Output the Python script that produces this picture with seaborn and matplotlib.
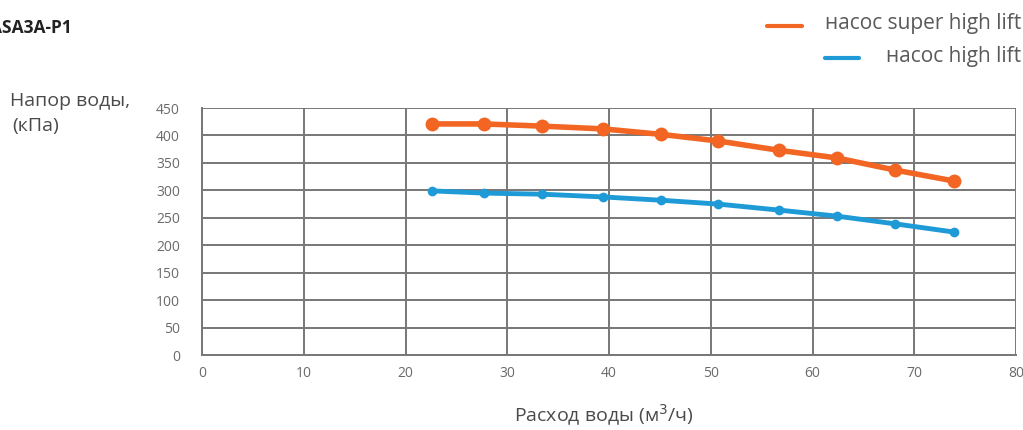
import pandas as pd
import matplotlib.pyplot as plt
import seaborn as sns
from matplotlib.lines import Line2D

sns.set_style("white")
plt.rcParams['font.family'] = ['Open Sans', 'DejaVu Sans']

flow = [22.6, 27.7, 33.4, 39.4, 45.1, 50.7, 56.7, 62.4, 68.1, 73.9]
super_high = [421, 421, 417, 412, 402, 390, 373, 359, 337, 317]
high = [299, 295, 293, 288, 282, 275, 264, 253, 239, 224]

names = ["насос super high lift", "насос high lift"]
colors = ["#F26522", "#1E9AD6"]

df = pd.DataFrame({"flow": flow * 2,
                   "head": super_high + high,
                   "pump": [names[0]] * len(flow) + [names[1]] * len(flow)})

fig = plt.figure(figsize=(10.23, 4.30), dpi=100)
ax = fig.add_axes([0.1975, 0.1744, 0.7957, 0.5744])

for name, col, lw, ms in zip(names, colors, [4.0, 3.5], [10, 7]):
    sns.lineplot(data=df[df["pump"] == name], x="flow", y="head", color=col,
                 linewidth=lw, marker="o", markersize=ms, markeredgewidth=0,
                 ax=ax, legend=False)

ax.set_xlim(0, 80)
ax.set_ylim(0, 450)
ax.set_xticks(range(0, 81, 10))
ax.set_yticks(range(0, 451, 50))
ax.grid(True, color="#777777", linewidth=1.4)
ax.set_axisbelow(True)
for s in ["top", "right"]:
    ax.spines[s].set_visible(False)
for s in ["left", "bottom"]:
    ax.spines[s].set_color("#777777")
    ax.spines[s].set_linewidth(1.4)
ax.tick_params(axis="both", colors="#6a6a6a", labelsize=10, length=0)
ax.tick_params(axis="x", pad=8)
ax.tick_params(axis="y", pad=16)
ax.set_xlabel("")
ax.set_ylabel("")

fig.text(0.010, 0.785, "Напор воды,", fontsize=14, color="#4a4a4a",
         ha="left", va="top")
fig.text(0.012, 0.728, "(кПа)", fontsize=14, color="#4a4a4a",
         ha="left", va="top")
fig.text(0.59, 0.035, "Расход воды (м$^3$/ч)", fontsize=14, color="#4a4a4a",
         ha="center", va="center")
fig.text(-0.010, 0.935, "ASA3A-P1", fontsize=12.5, fontweight="bold",
         color="#222222", ha="left", va="center")

# legend, right-aligned labels
fig.text(0.998, 0.945, names[0], fontsize=15, color="#5a5a5a", ha="right", va="center")
fig.text(0.998, 0.868, names[1], fontsize=15, color="#5a5a5a", ha="right", va="center")
fig.add_artist(Line2D([0.750, 0.784], [0.940, 0.940], color=colors[0], lw=3,
                      transform=fig.transFigure))
fig.add_artist(Line2D([0.806, 0.840], [0.864, 0.864], color=colors[1], lw=3,
                      transform=fig.transFigure))

fig.savefig("out.png", dpi=100)
